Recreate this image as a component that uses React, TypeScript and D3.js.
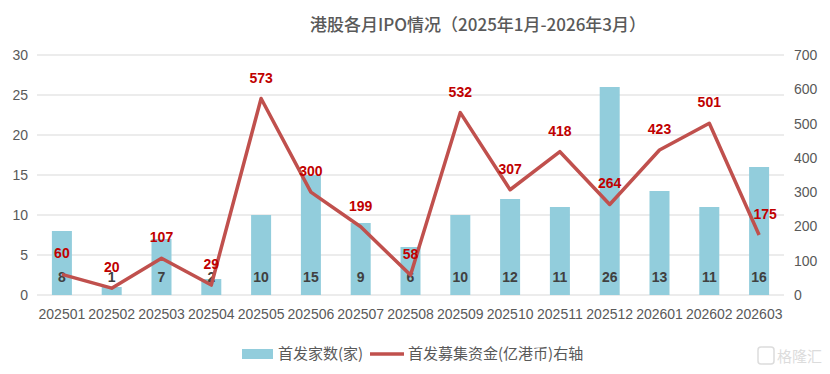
import React, { useEffect, useRef } from 'react';
import * as d3 from 'd3';

const months = ['202501', '202502', '202503', '202504', '202505', '202506', '202507', '202508', '202509', '202510', '202511', '202512', '202601', '202602', '202603'];
const ipoCount = [8, 1, 7, 2, 10, 15, 9, 6, 10, 12, 11, 26, 13, 11, 16];
const ipoFunds = [60, 20, 107, 29, 573, 300, 199, 58, 532, 307, 418, 264, 423, 501, 175];
const leftTicks = [0, 5, 10, 15, 20, 25, 30];
const rightTicks = [0, 100, 200, 300, 400, 500, 600, 700];

const W = 830;
const H = 374;
const NUM_FONT = '"Liberation Sans", Arial, sans-serif';
const CJK_FONT = '"Noto Sans CJK SC", sans-serif';

const App: React.FC = () => {
  const ref = useRef<SVGSVGElement | null>(null);

  useEffect(() => {
    if (!ref.current) return;
    const svg = d3.select(ref.current);
    svg.selectAll('*').remove();

    const left = 37;
    const right = 784;
    const top = 55;
    const bottom = 295;

    const x = d3.scaleBand<string>().domain(months).range([left, right]).paddingInner(0).paddingOuter(0);
    const yL = d3.scaleLinear().domain([0, 30]).range([bottom, top]);
    const yR = d3.scaleLinear().domain([0, 700]).range([bottom, top]);
    const cx = (m: string) => (x(m) ?? 0) + x.bandwidth() / 2;

    svg.append('rect').attr('width', W).attr('height', H).attr('fill', '#fff');

    // title
    svg.append('text')
      .attr('x', 478).attr('y', 31)
      .attr('text-anchor', 'middle')
      .attr('font-family', CJK_FONT)
      .attr('font-size', 17)
      .attr('font-weight', 500)
      .attr('fill', '#595959')
      .text('港股各月IPO情况（2025年1月-2026年3月）');

    // gridlines
    svg.append('g').selectAll('line')
      .data(leftTicks)
      .join('line')
      .attr('x1', left).attr('x2', right)
      .attr('y1', d => yL(d)).attr('y2', d => yL(d))
      .attr('stroke', '#d9d9d9').attr('stroke-width', 1);

    // left ticks
    svg.append('g').selectAll('text')
      .data(leftTicks)
      .join('text')
      .attr('x', 28).attr('y', d => yL(d) + 5)
      .attr('text-anchor', 'end')
      .attr('font-family', NUM_FONT).attr('font-size', 14)
      .attr('fill', '#595959')
      .text(d => d);

    // right ticks
    svg.append('g').selectAll('text')
      .data(rightTicks)
      .join('text')
      .attr('x', 794).attr('y', d => yR(d) + 5)
      .attr('text-anchor', 'start')
      .attr('font-family', NUM_FONT).attr('font-size', 14)
      .attr('fill', '#595959')
      .text(d => d);

    // bars
    const barW = 20;
    svg.append('g').selectAll('rect')
      .data(months)
      .join('rect')
      .attr('x', d => cx(d) - barW / 2)
      .attr('width', barW)
      .attr('y', (d, i) => yL(ipoCount[i]))
      .attr('height', (d, i) => bottom - yL(ipoCount[i]))
      .attr('fill', '#92cddc');

    // x labels
    svg.append('g').selectAll('text')
      .data(months)
      .join('text')
      .attr('x', d => cx(d)).attr('y', 319)
      .attr('text-anchor', 'middle')
      .attr('font-family', NUM_FONT).attr('font-size', 14)
      .attr('fill', '#595959')
      .text(d => d);

    // bar labels
    svg.append('g').selectAll('text')
      .data(months)
      .join('text')
      .attr('x', d => cx(d)).attr('y', 282)
      .attr('text-anchor', 'middle')
      .attr('font-family', NUM_FONT).attr('font-size', 14).attr('font-weight', 'bold')
      .attr('fill', '#404040')
      .text((d, i) => ipoCount[i]);

    // line
    const line = d3.line<number>()
      .x((d, i) => cx(months[i]))
      .y(d => yR(d));
    svg.append('path')
      .datum(ipoFunds)
      .attr('d', line)
      .attr('fill', 'none')
      .attr('stroke', '#c0504d')
      .attr('stroke-width', 3.5)
      .attr('stroke-linejoin', 'round');

    // line labels
    svg.append('g').selectAll('text')
      .data(ipoFunds)
      .join('text')
      .attr('x', (d, i) => cx(months[i]) + (i === 14 ? 6 : 0))
      .attr('y', (d, i) => yR(d) - 16)
      .attr('text-anchor', 'middle')
      .attr('font-family', NUM_FONT).attr('font-size', 14).attr('font-weight', 'bold')
      .attr('fill', '#c00000')
      .text(d => d);

    // legend
    const lg = svg.append('g');
    lg.append('rect').attr('x', 242).attr('y', 349).attr('width', 31).attr('height', 10).attr('fill', '#92cddc');
    lg.append('text').attr('x', 278).attr('y', 359)
      .attr('font-family', CJK_FONT).attr('font-size', 15).attr('fill', '#595959')
      .text('首发家数(家)');
    lg.append('line').attr('x1', 370).attr('x2', 404).attr('y1', 354).attr('y2', 354)
      .attr('stroke', '#c0504d').attr('stroke-width', 3.5);
    lg.append('text').attr('x', 408).attr('y', 359)
      .attr('font-family', CJK_FONT).attr('font-size', 15).attr('fill', '#595959')
      .text('首发募集资金(亿港币)右轴');

    // watermark
    const wm = svg.append('g').attr('opacity', 0.5);
    wm.append('rect').attr('x', 758).attr('y', 347).attr('width', 16).attr('height', 17).attr('rx', 3)
      .attr('fill', 'none').attr('stroke', '#bbb').attr('stroke-width', 1.5);
    wm.append('text').attr('x', 777).attr('y', 362)
      .attr('font-family', CJK_FONT).attr('font-size', 15).attr('fill', '#bbb')
      .text('格隆汇');
  }, []);

  return <svg ref={ref} width={W} height={H} style={{ display: 'block', margin: -8 }} />;
};

export default App;
